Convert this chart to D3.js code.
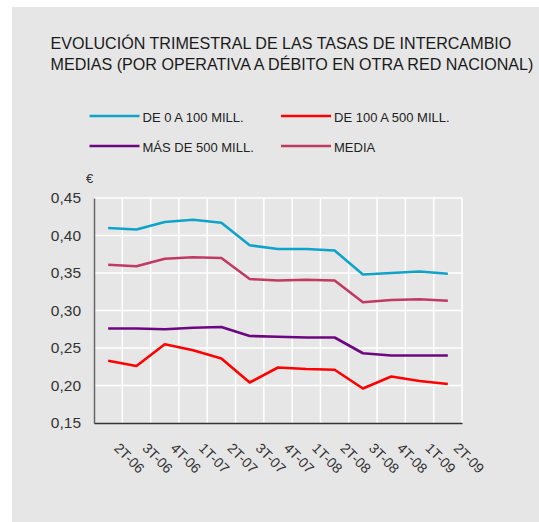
<!DOCTYPE html>
<html>
<head>
<meta charset="utf-8">
<script src="https://cdn.jsdelivr.net/npm/d3@7"></script>
<style>
	body { margin: 0; background: #fff; }
	svg { display: block; font-family: "Liberation Sans", Arial, sans-serif; }
</style>
</head>
<body>
<svg width="539" height="522"></svg>
<script>
	// quarters on the x axis
	const quarters = ["2T-06", "3T-06", "4T-06", "1T-07", "2T-07", "3T-07", "4T-07",
		"1T-08", "2T-08", "3T-08", "4T-08", "1T-09", "2T-09"];

	// series values (euros)
	const de0a100 = [0.410, 0.408, 0.418, 0.421, 0.417, 0.387, 0.382, 0.382, 0.380, 0.348, 0.350, 0.352, 0.349];
	const de100a500 = [0.233, 0.226, 0.255, 0.247, 0.236, 0.204, 0.224, 0.222, 0.221, 0.196, 0.212, 0.206, 0.202];
	const mas500 = [0.276, 0.276, 0.275, 0.277, 0.278, 0.266, 0.265, 0.264, 0.264, 0.243, 0.240, 0.240, 0.240];
	const media = [0.361, 0.359, 0.369, 0.371, 0.370, 0.342, 0.340, 0.341, 0.340, 0.311, 0.314, 0.315, 0.313];

	const yTicks = [0.15, 0.20, 0.25, 0.30, 0.35, 0.40, 0.45];

	const series = [
		{ name: "DE 0 A 100 MILL.", values: de0a100, color: "#0ea3c9" },
		{ name: "DE 100 A 500 MILL.", values: de100a500, color: "#ff0000" },
		{ name: "MÁS DE 500 MILL.", values: mas500, color: "#6c087f" },
		{ name: "MEDIA", values: media, color: "#c03a62" }
	];

	const svg = d3.select("svg");

	//background panel
	svg.append("rect")
		.attr("x", 12).attr("y", 7)
		.attr("width", 527).attr("height", 515)
		.attr("fill", "#e6e6e6");

	//title
	const title = svg.append("text")
		.attr("fill", "#1a1a1a")
		.style("font-size", "16.1px");
	title.append("tspan").attr("x", 50.5).attr("y", 48.5).text("EVOLUCIÓN TRIMESTRAL DE LAS TASAS DE INTERCAMBIO");
	title.append("tspan").attr("x", 50.5).attr("y", 70).text("MEDIAS (POR OPERATIVA A DÉBITO EN OTRA RED NACIONAL)");

	//legend
	const legend = svg.append("g");
	series.forEach((s, i) => {
		const lx = i % 2 === 0 ? 89.5 : 281;
		const ly = i < 2 ? 116 : 146;
		legend.append("line")
			.attr("x1", lx).attr("x2", lx + 50)
			.attr("y1", ly).attr("y2", ly)
			.attr("stroke", s.color)
			.attr("stroke-width", 2.5);
		legend.append("text")
			.attr("x", lx + 53)
			.attr("y", ly + 5.5)
			.attr("fill", "#222")
			.style("font-size", "13px")
			.text(s.name);
	});

	//scales
	const x = d3.scaleBand().domain(quarters).range([94, 462]);
	const y = d3.scaleLinear().domain([0.15, 0.45]).range([423, 198]);

	//grid
	const grid = svg.append("g");
	grid.selectAll(".hg")
		.data(yTicks.slice(1))
		.enter()
		.append("line")
		.attr("x1", 94).attr("x2", 462)
		.attr("y1", (d) => y(d)).attr("y2", (d) => y(d))
		.attr("stroke", "#fff")
		.attr("stroke-width", 1.5);
	grid.selectAll(".vg")
		.data(quarters)
		.enter()
		.append("line")
		.attr("x1", (d) => x(d) + x.bandwidth()).attr("x2", (d) => x(d) + x.bandwidth())
		.attr("y1", y(0.45)).attr("y2", y(0.15))
		.attr("stroke", "#fff")
		.attr("stroke-width", 1.5);

	//y axis
	const yAxis = svg.append("g")
		.attr("transform", "translate(94,0)")
		.call(d3.axisLeft(y).tickValues(yTicks).tickSize(0).tickPadding(13)
			.tickFormat((d) => d3.format(".2f")(d).replace(".", ",")));
	yAxis.select(".domain").attr("stroke", "#666").attr("stroke-width", 1.5);
	yAxis.selectAll("text")
		.attr("fill", "#333")
		.style("font-size", "15.5px")
		.style("font-family", "\"Liberation Sans\", Arial, sans-serif");

	svg.append("text")
		.attr("x", 86).attr("y", 182.5)
		.attr("fill", "#333")
		.style("font-size", "13px")
		.text("€");

	//x axis
	const xAxis = svg.append("g")
		.attr("transform", "translate(0,423)")
		.call(d3.axisBottom(x).tickSize(0).tickPadding(0));
	xAxis.select(".domain").attr("stroke", "#333").attr("stroke-width", 1.5);
	xAxis.selectAll("text")
		.attr("fill", "#333")
		.attr("dy", null)
		.attr("y", 0)
		.attr("text-anchor", "start")
		.attr("transform", "translate(5,26) rotate(45)")
		.style("font-size", "14px")
		.style("font-family", "\"Liberation Sans\", Arial, sans-serif");

	//lines
	const line = d3.line()
		.x((d, i) => x(quarters[i]) + x.bandwidth() / 2)
		.y((d) => y(d));

	svg.append("g")
		.selectAll("path")
		.data(series)
		.enter()
		.append("path")
		.attr("d", (d) => line(d.values))
		.attr("fill", "none")
		.attr("stroke", (d) => d.color)
		.attr("stroke-width", 2.6)
		.attr("stroke-linejoin", "round");
</script>
</body>
</html>
